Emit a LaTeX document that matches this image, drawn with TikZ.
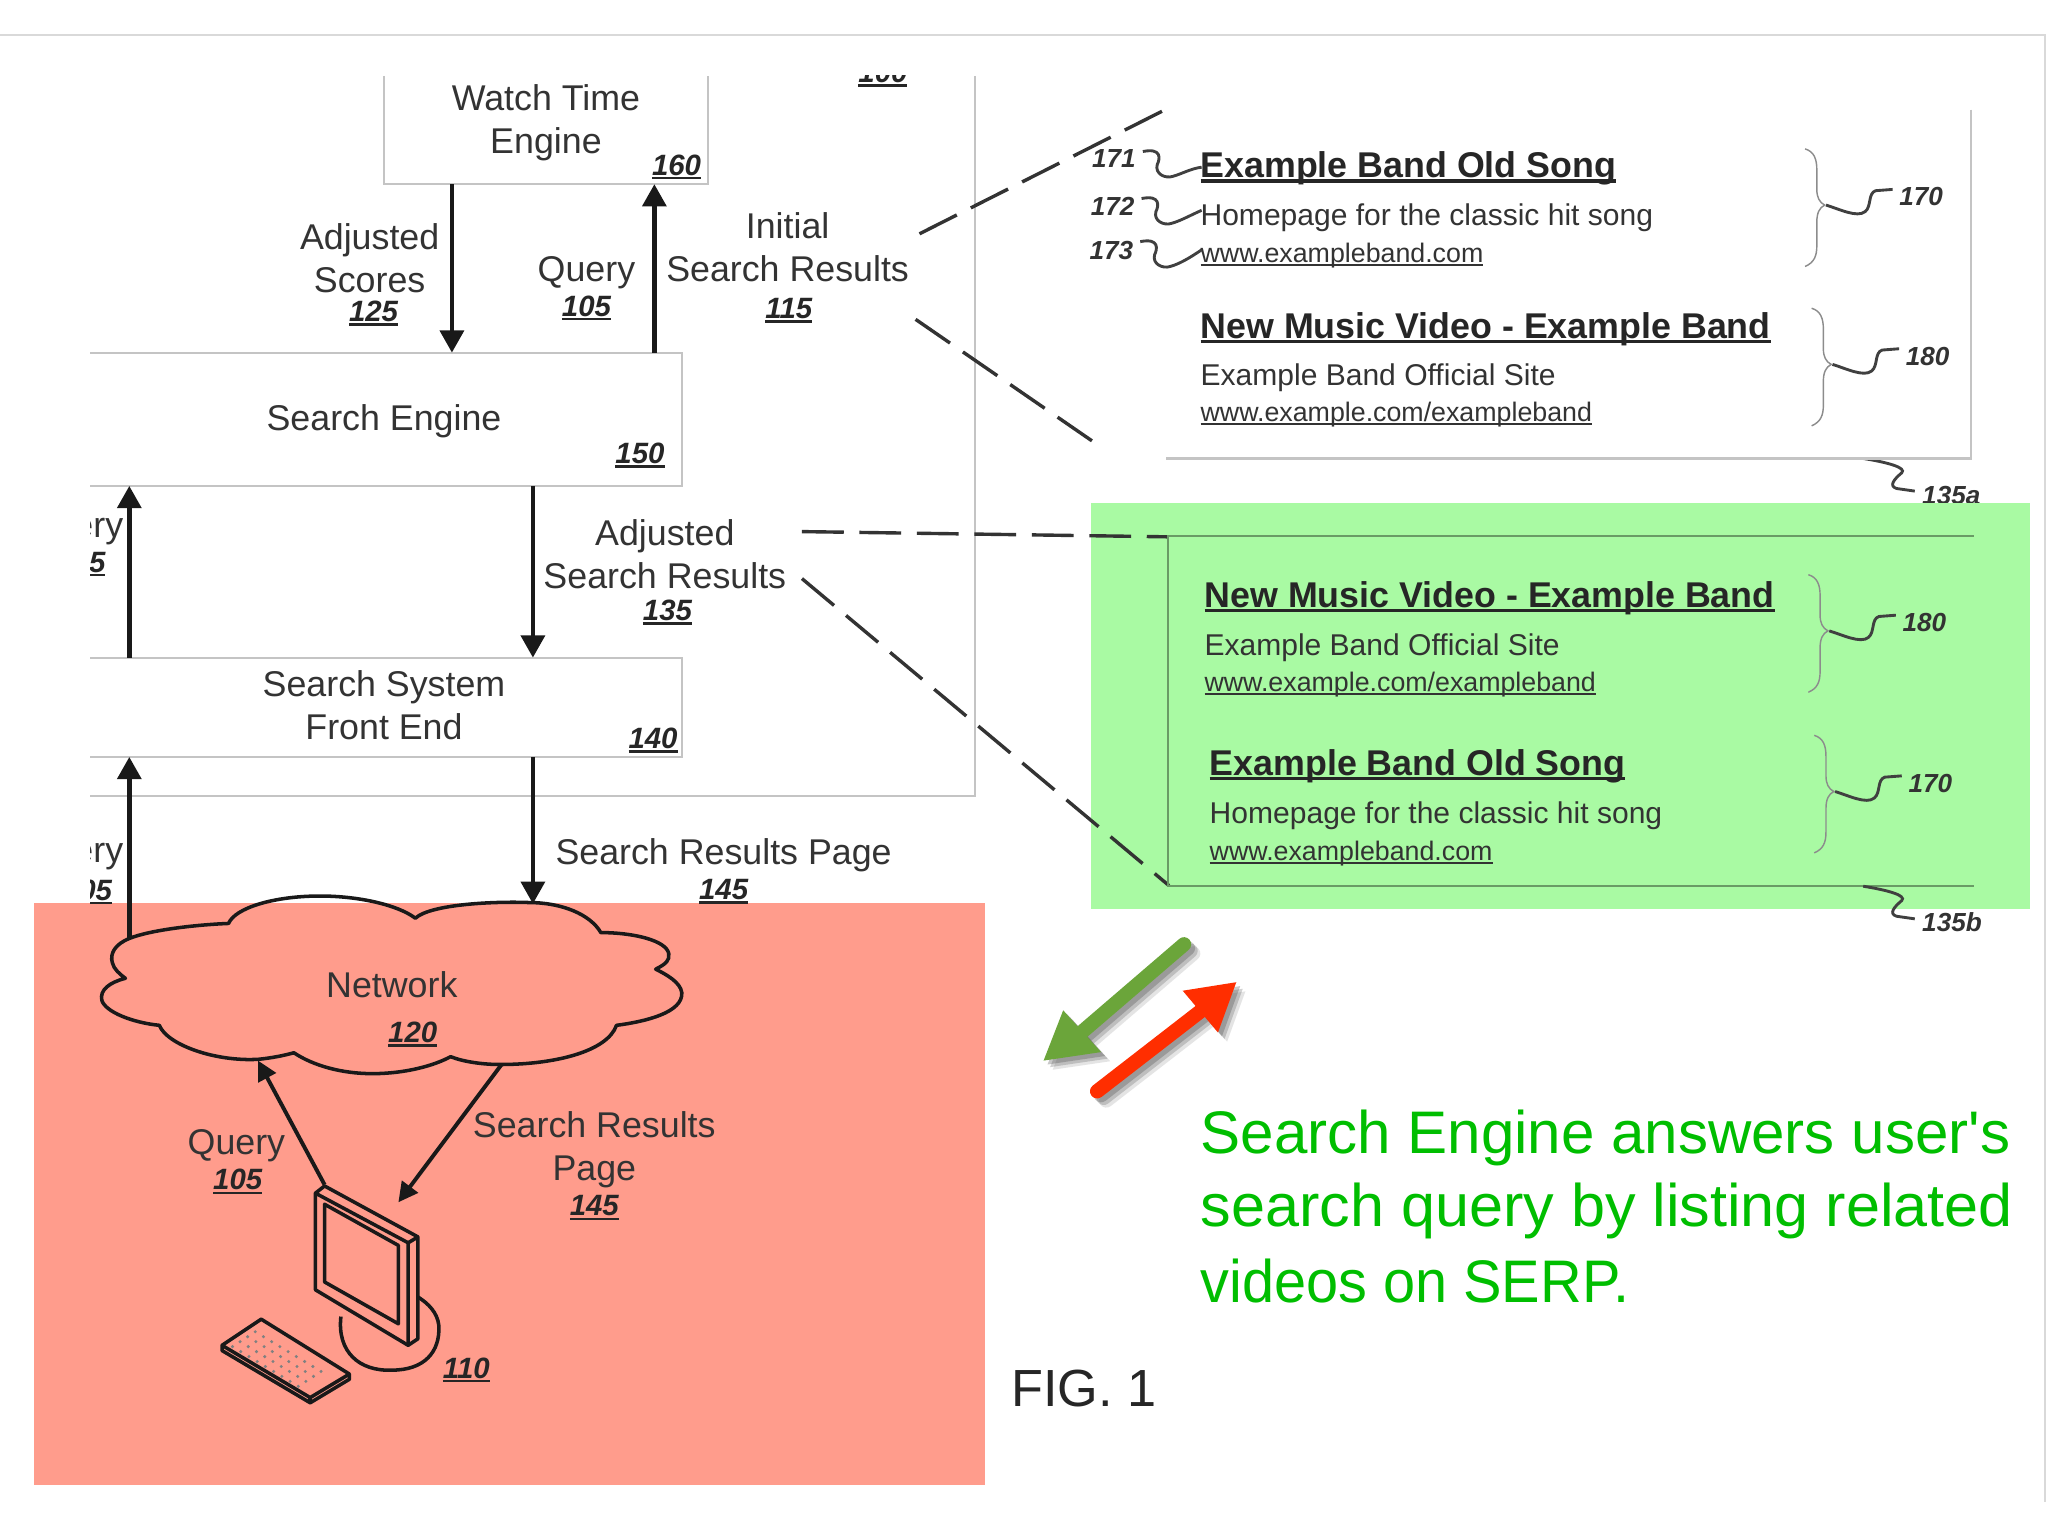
\documentclass[tikz,border=0pt]{standalone}
\usepackage{fontspec}
\setmainfont{Liberation Sans}
\usetikzlibrary{arrows.meta}
\definecolor{salmon}{HTML}{FF9C8C}
\definecolor{panelgreen}{HTML}{A9FAA3}
\definecolor{txt}{HTML}{333333}
\definecolor{rule}{HTML}{C4C4C4}
\definecolor{saygreen}{HTML}{00BE00}
\definecolor{grnarrow}{HTML}{6BA53A}
\definecolor{redarrow}{HTML}{FF2E00}
% underlined text: depth, thickness, text
\newcommand{\ulk}[3]{\setbox0=\hbox{#3}\leavevmode\rlap{\copy0}\rule[#1]{\wd0}{#2}}
\newcommand{\rnum}[1]{\ulk{-3.2pt}{2pt}{#1}}
\tikzset{
  lbl/.style={font=\fontsize{27.4}{33}\selectfont,text=txt,align=center,inner sep=0pt},
  ref/.style={font=\fontsize{22.5}{26}\bfseries\itshape\selectfont,text=black!85,inner sep=0pt,yshift=-1.8pt},
  tag/.style={font=\fontsize{20}{24}\bfseries\itshape\selectfont,text=black!80,inner sep=0pt,anchor=base west},
  title/.style={font=\fontsize{27.4}{32}\bfseries\selectfont,text=black!85,inner sep=0pt,anchor=base west},
  desc/.style={font=\fontsize{23}{28}\selectfont,text=txt,inner sep=0pt,anchor=base west},
  link/.style={font=\fontsize{20.5}{24}\selectfont,text=txt,inner sep=0pt,anchor=base west},
  say/.style={font=\fontsize{46}{56}\selectfont,text=saygreen,inner sep=0pt,anchor=base west},
  box/.style={inner sep=0pt,outer sep=0pt},
  frame/.style={draw=rule,line width=1.6pt},
  flow/.style={line width=3.6pt,black!90,-{Triangle[width=18pt,length=17pt]}},
  thinflow/.style={line width=3pt,black!90,-{Triangle[width=15pt,length=15pt]}},
  zoomline/.style={line width=2.6pt,txt,dash pattern=on 32pt off 12pt},
  squig/.style={line width=2.2pt,black!75},
  brace/.style={line width=1.1pt,black!45},
  ink/.style={line width=2.7pt,black!90,line join=round},
}
\begin{document}
\begin{tikzpicture}[x=1pt,y=-1pt]
\useasboundingbox (0,0) rectangle (1568,1176);
\fill[white] (0,0) rectangle (1568,1176);

% page edge
\draw[draw=black!15,line width=1.6pt] (0,27) -- (1566,27) -- (1566,1150);

% colour fields; 135a is partly covered by the green one
\fill[salmon] (26,691) rectangle (754,1137);
\draw[squig] (1426.5,351) .. controls (1445,354) and (1460,358) .. (1456,362) .. controls (1450,367) and (1446,372) .. (1452,374) -- (1466,376);
\node[tag] (t135a) at (1471.5,386) {135a};
\fill[panelgreen] (835,385) rectangle (1554,696);

% boxes
\node[box,minimum width=248pt,minimum height=83pt] (wte) at (418,99.5) {};
\node[box,minimum width=453pt,minimum height=102pt] (se) at (295.5,321) {};
\node[box,minimum width=453pt,minimum height=76pt] (fe) at (295.5,541.5) {};
\draw[frame] (wte.north west) -- (wte.south west) -- (wte.south east) -- (wte.north east);
\draw[frame] (se.north west) -- (se.north east) -- (se.south east) -- (se.south west);
\draw[frame] (fe.north west) -- (fe.north east) -- (fe.south east) -- (fe.south west);
\draw[frame] (746.5,58) -- (746.5,609.5) -- (69,609.5);

% cloud
\draw[ink] (99,718.5) .. controls (88,723) and (84,730) .. (86,737) .. controls (87,742) and (92,746) .. (96,749)
  .. controls (84,752) and (76,758) .. (78,766) .. controls (81,775) and (102,783) .. (122,785)
  .. controls (128,800) and (165,813) .. (198,811) .. controls (208,810) and (218,808) .. (225,806)
  .. controls (240,816) and (262,822) .. (285,822) .. controls (310,822) and (332,816) .. (345,809)
  .. controls (355,813) and (370,815) .. (383,815) .. controls (425,815) and (465,805) .. (472,785)
  .. controls (495,782) and (523,775) .. (522,760) .. controls (521,752) and (510,746) .. (502,742)
  .. controls (510,738) and (513,735) .. (512,730) .. controls (510,720) and (485,714) .. (460,714)
  .. controls (452,700) and (430,691) .. (405,691) .. controls (380,690) and (330,692) .. (318,703)
  .. controls (305,693) and (275,686) .. (245,686) .. controls (210,686) and (180,695) .. (175,707)
  .. controls (150,708) and (115,712) .. (99,718.5) -- cycle;

% connector ends
\coordinate (colA) at (99,0);
\coordinate (colB) at (346,0);
\coordinate (colC) at (408,0);
\coordinate (colD) at (501,0);
\coordinate (cloudL) at (99,718);
\coordinate (cloudR) at (408,692);
\coordinate (cloudQ) at (197.5,812);
\coordinate (cloudS) at (384,815);
\coordinate (pcQ) at (248.5,907);
\coordinate (pcS) at (305,920.5);

\draw[flow] (wte.south -| colB) -- (se.north -| colB);
\draw[flow] (se.north -| colD) -- (wte.south -| colD);
\draw[flow] (se.south -| colC) -- (fe.north -| colC);
\draw[flow] (fe.north -| colA) -- (se.south -| colA);
\draw[flow] (cloudL) -- (fe.south -| colA);
\draw[flow] (fe.south -| colC) -- (cloudR);
\draw[thinflow] (pcQ) -- (cloudQ);
\draw[thinflow] (cloudS) -- (pcS);

% computer
\draw[ink,fill=salmon] (261,1008) .. controls (258,1035) and (275,1050) .. (300,1049) .. controls (325,1049) and (337,1035) .. (336,1015) .. controls (335,1005) and (328,998) .. (320,993);
\draw[ink,fill=salmon] (241.5,913.5) -- (248.5,908) -- (320,947) -- (320,1025) -- (312.5,1030) -- (241.5,987.5) -- cycle;
\draw[ink] (241.5,913.5) -- (312.5,951.5) -- (312.5,1030);
\draw[ink] (312.5,951.5) -- (320,947);
\draw[ink] (248.5,922) -- (305,953.5) -- (305,1013.5) -- (248.5,981.5) -- cycle;
% keyboard
\draw[ink,fill=salmon] (200,1010) -- (267.5,1052) -- (267.5,1056) -- (237.5,1074) -- (170,1034) -- (170,1030) -- cycle;
\draw[ink] (170,1030) -- (237.5,1070) -- (267.5,1052);
\draw[ink] (237.5,1070) -- (237.5,1074);
\foreach \i in {0,...,8} \foreach \j in {0,...,3}
  \fill[black!50] ({178+\i*6.3+\j*5.8},{1031+\i*3.8-\j*3.8}) circle (1.3pt);

% labels left side
\node[lbl] (l1) at (418,94) {Watch Time\\Engine};
\node[ref] (r160) at (518,126) {\rnum{160}};
\node[lbl] (l2) at (283,197.5) {Adjusted\\Scores};
\node[ref] (r125) at (286,238) {\rnum{125}};
\node[lbl] (l3) at (449,208.5) {Query};
\node[ref] (r105a) at (449,234) {\rnum{105}};
\node[lbl] (l4) at (603,189.5) {Initial\\Search Results};
\node[ref] (r115) at (604,236) {\rnum{115}};
\node[lbl] (l5) at (294,322.5) {Search Engine};
\node[ref] (r150) at (490,347) {\rnum{150}};
\node[lbl] (l6) at (509,424.5) {Adjusted\\Search Results};
\node[ref] (r135) at (511,467) {\rnum{135}};
\node[lbl] (l7) at (294,540) {Search System\\Front End};
\node[ref] (r140) at (500,565) {\rnum{140}};
\node[lbl] (l8) at (554,654.5) {Search Results Page};
\node[ref] (r145a) at (554,681) {\rnum{145}};
\node[lbl] (l9) at (300,754) {Network};
\node[ref] (r120) at (316,790) {\rnum{120}};
\node[lbl] (l10) at (181,877.5) {Query};
\node[ref] (r105b) at (182,903) {\rnum{105}};
\node[lbl] (l11) at (455,880.5) {Search Results\\Page};
\node[ref] (r145b) at (455,923) {\rnum{145}};
\node[ref] (r110) at (357,1047) {\rnum{110}};
\node[font=\fontsize{40}{46}\selectfont,text=black!85,inner sep=0pt,anchor=base west] (fig) at (774,1077) {FIG. 1};

% labels cut off by the crop
\begin{scope}
  \clip (69,372) rectangle (96,700);
  \node[lbl] (l12) at (57,404.5) {Query};
  \node[ref] (r105c) at (62,430) {\rnum{105}};
  \node[lbl] (l13) at (57,653.5) {Query};
  \node[ref] (r105d) at (67,681) {\rnum{105}};
\end{scope}
\begin{scope}
  \clip (640,58) rectangle (720,70);
  \node[ref,anchor=base] (r100) at (676,61.5) {\rnum{100}};
\end{scope}

% zoom lines
\draw[zoomline] (704,179) -- (892,84);
\draw[zoomline] (701,244.5) -- (836,337.5);
\draw[zoomline] (614,407) -- (894,411);
\draw[zoomline] (614,443) -- (895,678);

% result panels
\draw[frame] (1509,84) -- (1509,351) -- (892.5,351);
\draw[line width=1.6pt,black!38!panelgreen] (1511,410.5) -- (894,410.5) -- (894,678) -- (1511,678);

\node[title] (a1) at (919,136) {\ulk{-3.8pt}{2.4pt}{Example Band Old Song}};
\node[desc] (a2) at (919,172.5) {Homepage for the classic hit song};
\node[link] (a3) at (919,201) {\ulk{-2.8pt}{1.5pt}{www.exampleband.com}};
\node[title] (a4) at (919,259) {\ulk{-3.8pt}{2.4pt}{New Music Video - Example Band}};
\node[desc] (a5) at (919,295.5) {Example Band Official Site};
\node[link] (a6) at (919,322.5) {\ulk{-2.8pt}{1.5pt}{www.example.com/exampleband}};

\node[title] (b1) at (922,465) {\ulk{-3.8pt}{2.4pt}{New Music Video - Example Band}};
\node[desc] (b2) at (922,502) {Example Band Official Site};
\node[link] (b3) at (922,529.5) {\ulk{-2.8pt}{1.5pt}{www.example.com/exampleband}};
\node[title] (b4) at (926,593.5) {\ulk{-3.8pt}{2.4pt}{Example Band Old Song}};
\node[desc] (b5) at (926,630.5) {Homepage for the classic hit song};
\node[link] (b6) at (926,658.5) {\ulk{-2.8pt}{1.5pt}{www.exampleband.com}};

% line tags 171..173
\foreach \dx/\dy/\ey/\lab in {0/0/128/171,-1/36/165/172,-2/69/199/173} {
  \node[tag] (n\lab) at ({836+\dx},\ey) {\lab};
  \draw[squig] ({875+\dx},{116+\dy}) .. controls ({890+\dx},{113+\dy}) and ({888+\dx},{122+\dy}) .. ({886+\dx},{126+\dy}) .. controls ({884+\dx},{133+\dy}) and ({892+\dx},{137+\dy}) .. ({898+\dx},{135+\dy}) .. controls ({905+\dx},{133+\dy}) and ({912+\dx},{129+\dy}) .. (920,{128+\dy-\dy/12});
}

% braces with their leaders
\foreach \dx/\dy/\lab [count=\i] in {0/0/170,5/122/180,2.5/326/180,7/449/170} {
\begin{scope}[shift={(\dx,\dy)}]
  \draw[brace] (1382,114) .. controls (1389,116) and (1391,122) .. (1391,130) -- (1391,145) .. controls (1391,151) and (1393,155) .. (1397,157) .. controls (1393,159) and (1391,163) .. (1391,170) -- (1391,188) .. controls (1391,196) and (1389,201) .. (1382,204);
  \draw[squig] (1398,157) .. controls (1408,160) and (1422,167) .. (1428,162) .. controls (1433,158) and (1430,148) .. (1436,146) -- (1449,145);
  \node[tag] (br\i) at (1454,157.5) {\lab};
\end{scope}
}

% 135b tag
\draw[squig] (1426.5,678.5) .. controls (1445,681.5) and (1460,685.5) .. (1456,689.5) .. controls (1450,694.5) and (1446,699.5) .. (1452,701.5) -- (1466,703.5);
\node[tag] (t135b) at (1471.5,713.5) {135b};

% two way arrows
\foreach \off/\op in {3/.3,5/.25,7/.15} {
\begin{scope}[shift={(\off,\off)},opacity=\op]
  \draw[black!70,line width=11pt,line cap=round] (906.5,723) -- (825,793);
  \fill[black!70] (799,812) -- (814,773.5) -- (843,805.5) -- cycle;
  \draw[black!70,line width=11pt,line cap=round] (840,835.5) -- (922,772);
  \fill[black!70] (946.5,752) -- (905.5,758.5) -- (932.5,790.5) -- cycle;
\end{scope}
}
\draw[grnarrow,line width=11pt,line cap=round] (906.5,723) -- (825,793);
\fill[grnarrow] (799,812) -- (814,773.5) -- (843,805.5) -- cycle;
\draw[redarrow,line width=11pt,line cap=round] (840,835.5) -- (922,772);
\fill[redarrow] (946.5,752) -- (905.5,758.5) -- (932.5,790.5) -- cycle;

% caption
\node[say] (s1) at (919,883.5) {Search Engine answers user\textquotesingle s};
\node[say] (s2) at (919,939) {\scalebox{1.018}[1]{search query by listing related}};
\node[say] (s3) at (919,997) {\scalebox{0.96}[1]{videos on SERP.}};
\end{tikzpicture}
\end{document}
